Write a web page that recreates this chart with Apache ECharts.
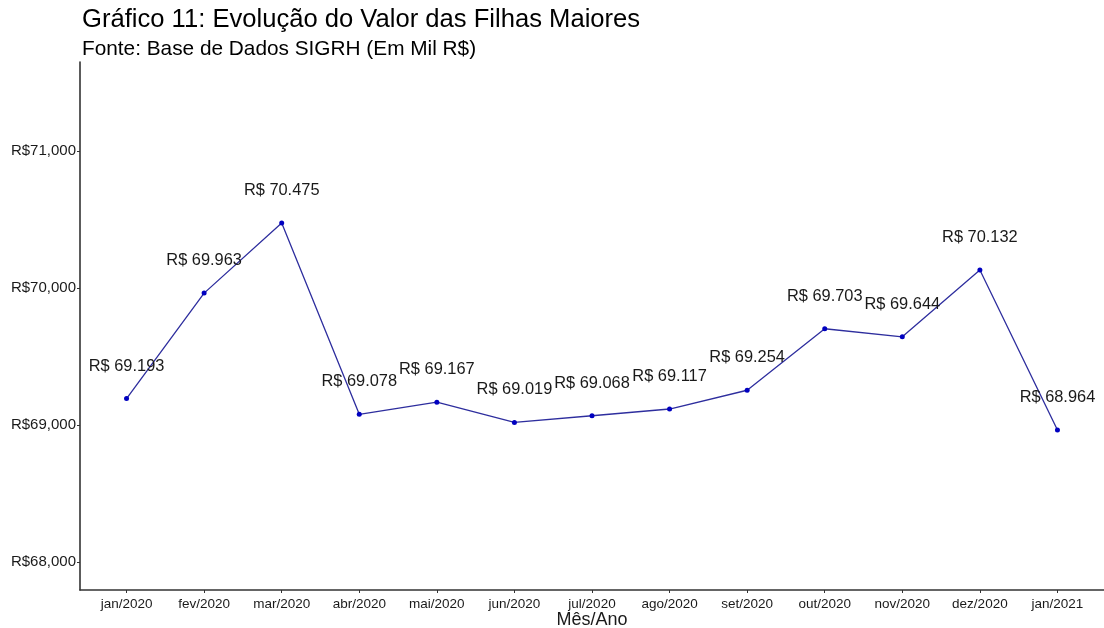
<!DOCTYPE html>
<html>
<head>
<meta charset="utf-8">
<script src="https://cdn.jsdelivr.net/npm/echarts@6/dist/echarts.min.js"></script>
<style>html,body{margin:0;padding:0;background:#fff}#c{width:1104px;height:628px}</style>
</head>
<body>
<div id="c"></div>
<script>
const categories = ['jan/2020','fev/2020','mar/2020','abr/2020','mai/2020','jun/2020','jul/2020','ago/2020','set/2020','out/2020','nov/2020','dez/2020','jan/2021'];
const values = [69193, 69963, 70475, 69078, 69167, 69019, 69068, 69117, 69254, 69703, 69644, 70132, 68964];
const yTicks = [68000, 69000, 70000, 71000];

const font = 'Liberation Sans, Arial, sans-serif';
const chart = echarts.init(document.getElementById('c'), null, {renderer: 'canvas'});
function fmtBR(v){ return 'R$ ' + (v/1000).toFixed(3); }
function fmtUS(v){ return 'R$' + v.toLocaleString('en-US'); }

chart.setOption({
  animation: false,
  backgroundColor: '#ffffff',
  title: [{
    text: 'Gráfico 11: Evolução do Valor das Filhas Maiores',
    left: 77, top: 2,
    textStyle: {fontFamily: font, fontSize: 25.6, fontWeight: 'normal', color: '#000'}
  },{
    text: 'Fonte: Base de Dados SIGRH (Em Mil R$)',
    left: 77, top: 34,
    textStyle: {fontFamily: font, fontSize: 20.8, fontWeight: 'normal', color: '#000'}
  }],
  grid: {left: 80, right: 0, top: 62, bottom: 38, containLabel: false, outerBoundsMode: 'none'},
  xAxis: {
    type: 'value', min: -0.6, max: categories.length - 1 + 0.6,
    name: 'Mês/Ano', nameLocation: 'middle', nameGap: 21, nameMoveOverlap: false,
    nameTextStyle: {fontFamily: font, fontSize: 18, color: '#1a1a1a'},
    axisLine: {show: true, onZero: false, lineStyle: {color: '#333', width: 1.6}},
    axisTick: {show: true, length: 3, lineStyle: {color: '#333'}, customValues: categories.map((c,i)=>i)},
    axisLabel: {fontFamily: font, fontSize: 13.5, color: '#1a1a1a', margin: 7,
      customValues: categories.map((c,i)=>i),
      formatter: v => categories[Math.round(v)] || ''},
    splitLine: {show: false}
  },
  yAxis: {
    type: 'value', min: 67796, max: 71650,
    axisLine: {show: true, onZero: false, lineStyle: {color: '#333', width: 1.6}},
    axisTick: {show: true, length: 3, lineStyle: {color: '#333'}, customValues: yTicks},
    axisLabel: {fontFamily: font, fontSize: 15, color: '#1a1a1a', margin: 4,
      customValues: yTicks, formatter: v => fmtUS(v)},
    splitLine: {show: false}
  },
  series: [{
    type: 'line',
    data: values.map((v,i)=>[i, v]),
    symbol: 'circle', symbolSize: 5,
    itemStyle: {color: '#0000c0'},
    lineStyle: {color: '#2e2e9e', width: 1.3},
    label: {show: true, position: 'top', distance: 22,
      fontFamily: font, fontSize: 16.4, color: '#1a1a1a',
      formatter: p => fmtBR(p.value[1])},
    z: 3
  }]
});
</script>
</body>
</html>
